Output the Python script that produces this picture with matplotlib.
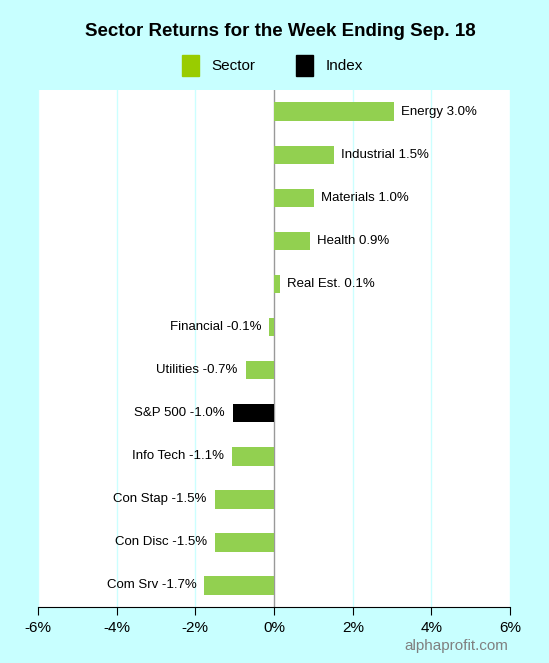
import matplotlib
matplotlib.use("Agg")
import matplotlib.pyplot as plt
from matplotlib.patches import Rectangle

categories = ["Energy", "Industrial", "Materials", "Health", "Real Est.", "Financial",
              "Utilities", "S&P 500", "Info Tech", "Con Stap", "Con Disc", "Com Srv"]
values = [3.06, 1.53, 1.02, 0.92, 0.15, -0.12, -0.72, -1.05, -1.08, -1.51, -1.51, -1.77]
shown = ["3.0%", "1.5%", "1.0%", "0.9%", "0.1%", "-0.1%", "-0.7%", "-1.0%", "-1.1%",
         "-1.5%", "-1.5%", "-1.7%"]
kinds = ["Sector"] * 7 + ["Index"] + ["Sector"] * 4
xticks = [-6, -4, -2, 0, 2, 4, 6]
xticklabels = ["-6%", "-4%", "-2%", "0%", "2%", "4%", "6%"]

plt.rcParams['font.family'] = ['Liberation Sans', 'DejaVu Sans']
BG = "#C8FFFF"
BAR = "#92D050"
fig = plt.figure(figsize=(5.49, 6.63), dpi=100, facecolor=BG)
ax = fig.add_axes([0.0692, 0.0845, 0.86, 0.7795])
ax.set_facecolor("white")

n = len(categories)
ypos = list(range(n))
colors = [BAR if k == "Sector" else "black" for k in kinds]
ax.barh(ypos, values, height=0.43, color=colors, zorder=3)
ax.set_ylim(n - 0.5, -0.5)
ax.set_xlim(-6, 6)

for y, v, c, s in zip(ypos, values, categories, shown):
    txt = f"{c} {s}"
    if v >= 0:
        ax.annotate(txt, (v, y), xytext=(7, 0), textcoords="offset pixels",
                    ha="left", va="center", fontsize=9.5, zorder=4)
    else:
        ax.annotate(txt, (v, y), xytext=(-8, 0), textcoords="offset pixels",
                    ha="right", va="center", fontsize=9.5, zorder=4)

for xt in xticks:
    if xt != 0:
        ax.axvline(xt, color="#CCFFFF", lw=1, zorder=1)
ax.axvline(0, color="#999999", lw=1, zorder=2)

ax.set_xticks(xticks)
ax.set_xticklabels(xticklabels, fontsize=11)
ax.set_yticks([])
for sp in ["top", "right", "left"]:
    ax.spines[sp].set_visible(False)
ax.spines["bottom"].set_color("black")
ax.tick_params(axis="x", length=6, color="black", pad=4)

fig.text(280 / 549, 0.952, "Sector Returns for the Week Ending Sep. 18", ha="center", va="center",
         fontsize=13.5, fontweight="bold")

# legend
fig.patches.append(Rectangle((182 / 549, 1 - 76 / 663), 17 / 549, 21 / 663,
                             transform=fig.transFigure, color="#99CC00"))
fig.patches.append(Rectangle((296 / 549, 1 - 76 / 663), 17 / 549, 21 / 663,
                             transform=fig.transFigure, color="black"))
fig.text(211 / 549, 1 - 66 / 663, "Sector", ha="left", va="center", fontsize=11)
fig.text(326 / 549, 1 - 66 / 663, "Index", ha="left", va="center", fontsize=11)

fig.text(508 / 549, 1 - 646 / 663, "alphaprofit.com", ha="right", va="center",
         fontsize=11, color="#808080")

fig.savefig("out.png", dpi=100, facecolor=BG)
